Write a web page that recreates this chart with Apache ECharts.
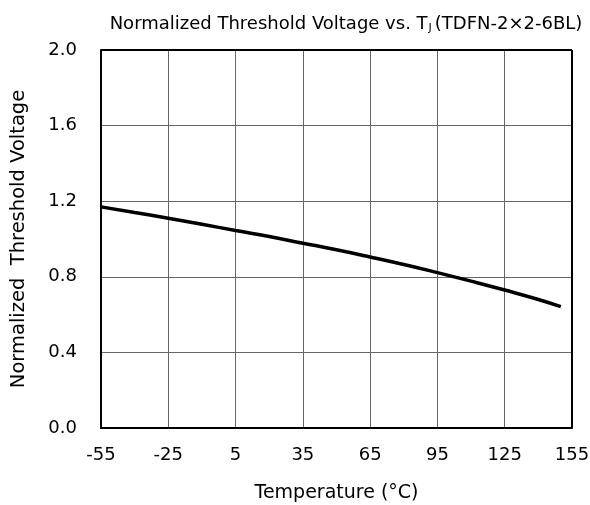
<!DOCTYPE html>
<html><head><meta charset="utf-8">
<script src="https://cdn.jsdelivr.net/npm/echarts@6/dist/echarts.min.js"></script>
<style>html,body{margin:0;padding:0;background:#fff}#c{width:590px;height:505px}</style>
</head><body><div id="c"></div>
<script>
const temps = [-55, -40, -25, -10, 5, 20, 35, 50, 65, 80, 95, 110, 125, 140, 150];
const values = [1.17, 1.14, 1.11, 1.078, 1.045, 1.013, 0.978, 0.943, 0.905, 0.865, 0.822, 0.777, 0.73, 0.68, 0.642];
const xTicks = [-55, -25, 5, 35, 65, 95, 125, 155];
const yTicks = [0, 0.4, 0.8, 1.2, 1.6, 2.0];
const F = 'DejaVu Sans, sans-serif';
const chart = echarts.init(document.getElementById('c'));
chart.setOption({
  animation: false,
  title: {
    text: '{a|Normalized Threshold Voltage vs. T}{s|J}{a|(TDFN-2×2-6BL)}',
    left: 341, top: 9, textAlign: 'center',
    textStyle: { rich: { a: { fontFamily: F, fontSize: 18, fontWeight: 'normal', color: '#000' }, s: { fontFamily: F, fontSize: 11, fontWeight: 'normal', color: '#000', verticalAlign: 'bottom', padding: [9, 3, 0, 1] } } }
  },
  grid: { left: 101, right: 18, top: 50, bottom: 77, outerBoundsMode: 'none', containLabel: false },
  xAxis: {
    type: 'value', min: -55, max: 155, interval: 30,
    name: 'Temperature (°C)', nameLocation: 'middle', nameGap: 56,
    nameTextStyle: { fontFamily: F, fontSize: 19, color: '#000' },
    axisLine: { show: true, onZero: false, lineStyle: { color: '#000', width: 2 } },
    axisTick: { show: false },
    axisLabel: { fontFamily: F, fontSize: 18, color: '#000', margin: 18, formatter: v => xTicks.includes(v) ? String(v) : '' },
    splitLine: { show: true, lineStyle: { color: '#666', width: 1 } }
  },
  yAxis: {
    type: 'value', min: 0, max: 2.0, interval: 0.4,
    name: 'Normalized  Threshold Voltage', nameLocation: 'middle', nameGap: 72,
    nameTextStyle: { fontFamily: F, fontSize: 19.5, color: '#000' },
    axisLine: { show: true, onZero: false, lineStyle: { color: '#000', width: 2 } },
    axisTick: { show: false },
    axisLabel: { fontFamily: F, fontSize: 18, color: '#000', margin: 24, formatter: v => v.toFixed(1) },
    splitLine: { show: true, lineStyle: { color: '#666', width: 1 } }
  },
  series: [
    { type: 'line', data: temps.map((t, i) => [t, values[i]]), smooth: true, showSymbol: false,
      lineStyle: { color: '#000', width: 3.5 } },
    { type: 'line', data: [], markLine: { silent: true, symbol: 'none', label: { show: false },
      lineStyle: { color: '#000', width: 2, type: 'solid' },
      data: [[{ coord: [-55, 2.0] }, { coord: [155, 2.0] }], [{ coord: [155, 0] }, { coord: [155, 2.0] }]] } }
  ]
});
</script></body></html>
